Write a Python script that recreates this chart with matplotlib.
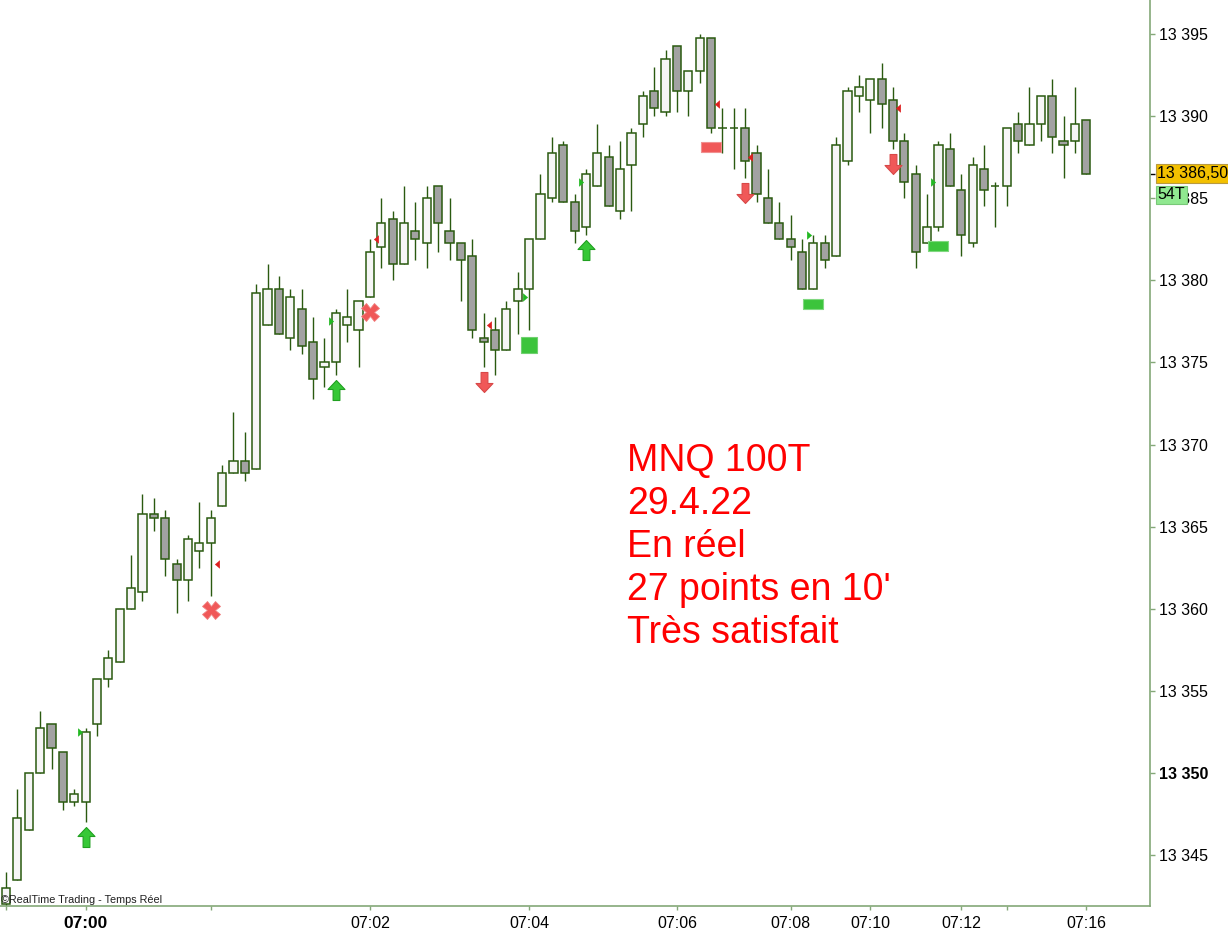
import numpy as np
import matplotlib
matplotlib.use("Agg")
import matplotlib.pyplot as plt
from matplotlib.path import Path
from matplotlib.ticker import FixedLocator, NullFormatter
import matplotlib.transforms as mtransforms

plt.rcParams['font.family'] = ['Liberation Sans', 'DejaVu Sans']

# MNQ 100 ticks candles (open, high, low, close)
opens = [13342.0, 13343.5, 13346.5, 13350.0, 13353.0, 13351.25, 13348.25, 13348.25, 13353.0, 13355.75,
         13356.75, 13360.0, 13361.0, 13365.75, 13365.5, 13362.75, 13361.75, 13363.5, 13364.0, 13366.25,
         13368.25, 13369.0, 13368.5, 13377.25, 13379.5, 13376.5, 13378.25, 13376.25, 13374.75, 13375.0,
         13377.25, 13377.0, 13379.0, 13382.0, 13383.75, 13381.0, 13383.0, 13382.25, 13385.75, 13383.0,
         13382.25, 13381.5, 13376.5, 13377.0, 13375.75, 13378.75, 13379.5, 13382.5, 13385.0, 13388.25,
         13384.75, 13383.25, 13385.75, 13387.5, 13384.25, 13387.0, 13389.5, 13391.5, 13390.25, 13394.25,
         13391.5, 13392.75, 13394.75, 13389.25, 13389.25, 13389.25, 13387.75, 13385.0, 13383.5, 13382.5,
         13381.75, 13379.5, 13382.25, 13381.5, 13387.25, 13391.25, 13391.0, 13392.25, 13391.0, 13388.5,
         13386.5, 13382.25, 13383.25, 13388.0, 13385.5, 13382.25, 13386.75, 13385.75, 13385.75, 13389.5,
         13388.25, 13389.5, 13391.25, 13388.5, 13388.5, 13389.75]
highs = [13344.0, 13349.0, 13350.0, 13353.75, 13353.0, 13351.25, 13349.0, 13352.75, 13355.75, 13357.5,
         13360.0, 13363.25, 13367.0, 13366.75, 13366.0, 13363.0, 13364.5, 13366.5, 13366.0, 13368.75,
         13372.0, 13370.75, 13379.75, 13381.0, 13380.25, 13379.5, 13379.5, 13377.75, 13376.5, 13378.25,
         13379.5, 13378.75, 13382.5, 13385.0, 13384.25, 13385.75, 13384.75, 13385.75, 13385.75, 13385.0,
         13382.25, 13382.5, 13378.0, 13377.75, 13378.75, 13380.5, 13382.5, 13386.5, 13388.75, 13388.5,
         13385.25, 13386.75, 13389.5, 13388.25, 13388.5, 13389.25, 13391.5, 13393.0, 13394.0, 13394.25,
         13392.75, 13395.0, 13394.75, 13390.5, 13390.5, 13390.5, 13388.25, 13386.75, 13384.75, 13384.0,
         13382.5, 13382.75, 13382.75, 13388.75, 13391.75, 13392.5, 13392.25, 13393.25, 13391.75, 13389.0,
         13387.0, 13385.25, 13388.5, 13389.0, 13386.5, 13387.5, 13388.25, 13386.0, 13389.25, 13390.25,
         13391.75, 13391.25, 13392.25, 13390.0, 13391.75, 13389.75]
lows = [13341.75, 13343.5, 13346.5, 13350.0, 13350.25, 13347.75, 13348.0, 13347.0, 13352.25, 13355.25,
        13356.75, 13360.0, 13360.5, 13364.75, 13362.0, 13359.75, 13360.5, 13362.5, 13360.75, 13366.25,
        13368.25, 13367.75, 13368.5, 13377.25, 13376.75, 13375.75, 13375.5, 13372.75, 13373.5, 13374.25,
        13376.25, 13374.75, 13379.0, 13380.75, 13380.0, 13381.0, 13381.25, 13380.75, 13381.75, 13381.25,
        13378.75, 13376.5, 13374.75, 13374.25, 13375.75, 13376.75, 13377.0, 13382.5, 13384.75, 13384.75,
        13382.25, 13382.75, 13385.75, 13384.5, 13383.75, 13384.25, 13388.75, 13390.0, 13390.0, 13390.25,
        13390.0, 13392.0, 13389.0, 13387.75, 13386.75, 13386.25, 13384.75, 13383.5, 13382.5, 13381.25,
        13379.5, 13379.5, 13380.75, 13381.5, 13387.0, 13390.25, 13389.0, 13389.25, 13388.0, 13385.0,
        13380.75, 13382.25, 13383.0, 13385.75, 13381.5, 13382.0, 13384.5, 13383.25, 13384.5, 13387.75,
        13388.25, 13388.5, 13387.75, 13386.25, 13387.75, 13386.5]
closes = [13343.0, 13347.25, 13350.0, 13352.75, 13351.5, 13348.25, 13348.75, 13352.5, 13355.75, 13357.0,
          13360.0, 13361.25, 13365.75, 13365.5, 13363.0, 13361.75, 13364.25, 13364.0, 13365.5, 13368.25,
          13369.0, 13368.25, 13379.25, 13379.5, 13376.75, 13379.0, 13376.0, 13374.0, 13375.0, 13378.0,
          13377.75, 13378.75, 13381.75, 13383.5, 13381.0, 13383.5, 13382.5, 13385.0, 13383.5, 13382.25,
          13381.25, 13377.0, 13376.25, 13375.75, 13378.25, 13379.5, 13382.5, 13385.25, 13387.75, 13384.75,
          13383.0, 13386.5, 13387.75, 13384.5, 13386.75, 13389.0, 13391.25, 13390.5, 13393.5, 13391.5,
          13392.75, 13394.75, 13389.25, 13389.25, 13389.25, 13387.25, 13385.25, 13383.5, 13382.5, 13382.0,
          13379.5, 13382.25, 13381.25, 13388.25, 13391.5, 13391.75, 13392.25, 13390.75, 13388.5, 13386.0,
          13381.75, 13383.25, 13388.25, 13385.75, 13382.75, 13387.0, 13385.5, 13385.75, 13389.25, 13388.5,
          13389.5, 13391.25, 13388.75, 13388.25, 13389.5, 13386.5]

# time labels (candle index -> label)
time_idx = [7, 32, 46, 59, 69, 76, 84, 95]
time_lbl = ['07:00', '07:02', '07:04', '07:06', '07:08', '07:10', '07:12', '07:16']
minor_idx = [0, 18, 88]
price_ticks = [13345, 13350, 13355, 13360, 13365, 13370, 13375, 13380, 13385, 13390, 13395]

# signals
buy_idx, buy_px = [7, 29, 51], [13346.1, 13373.3, 13381.85]
sell_idx, sell_px = [42, 65, 78], [13373.8, 13385.3, 13387.1]
stop_idx, stop_px = [18, 32], [13359.9, 13378.05]
tgt_idx, tgt_px = [46], [13376.05]
exitg_idx, exitg_px = [71, 82], [13378.55, 13382.1]
exitr_idx, exitr_px = [62], [13388.1]
gtri_idx = [6.52, 28.58, 45.65, 50.57, 70.65, 81.56]
gtri_px = [13352.5, 13377.5, 13379.0, 13386.0, 13382.75, 13386.0]
rtri_idx = [18.53, 32.52, 42.51, 62.51, 65.44, 78.48]
rtri_px = [13362.75, 13382.5, 13377.25, 13390.75, 13387.5, 13390.5]

last_px = 13386.5
tick_count = '54T'

# ------------------------------------------------------------------
fig = plt.figure(figsize=(12.28, 9.31), dpi=100)
ax = fig.add_axes([0, 25 / 931, 1150 / 1228, 906 / 931])

o = np.array(opens); h = np.array(highs); l = np.array(lows); c = np.array(closes)
x = np.arange(len(o))
up = c >= o
edge = '#2a5a10'

ax.vlines(x, l, h, color=edge, lw=1.0, zorder=2)
ax.bar(x, np.abs(c - o), bottom=np.minimum(o, c), width=0.72,
       color=np.where(up, '#f6f6f6', '#a2a2a2'), edgecolor=edge, linewidth=1.1, zorder=3)

# marker shapes
arrow_up = Path([(0, 0.5), (0.425, 0.05), (0.17, 0.05), (0.17, -0.5), (-0.17, -0.5),
                 (-0.17, 0.05), (-0.425, 0.05), (0, 0.5)], closed=True)
arrow_dn = Path([(vx, -vy) for vx, vy in arrow_up.vertices], closed=True)
rect = Path([(-0.5, -0.27), (0.5, -0.27), (0.5, 0.27), (-0.5, 0.27), (-0.5, -0.27)], closed=True)
tri_r = Path([(-0.3, 0.5), (0.3, 0), (-0.3, -0.5), (-0.3, 0.5)], closed=True)
tri_l = Path([(0.3, 0.5), (-0.3, 0), (0.3, -0.5), (0.3, 0.5)], closed=True)

ax.plot(buy_idx, buy_px, ls='none', marker=arrow_up, ms=14.4, mfc='#36c836', mec='#20a020', mew=0.8, zorder=5)
ax.plot(sell_idx, sell_px, ls='none', marker=arrow_dn, ms=14.4, mfc='#f05858', mec='#d84848', mew=0.8, zorder=5)
ax.plot(stop_idx, stop_px, ls='none', marker='X', ms=12.5, mfc='#f05858', mec='#f08080', mew=0.6, zorder=5)
ax.plot(tgt_idx, tgt_px, ls='none', marker='s', ms=11.5, mfc='#3cc43c', mec='#70d070', mew=0.8, zorder=5)
ax.plot(exitg_idx, exitg_px, ls='none', marker=rect, ms=14.4, mfc='#3cc43c', mec='#80d880', mew=0.8, zorder=5)
ax.plot(exitr_idx, exitr_px, ls='none', marker=rect, ms=14.4, mfc='#f05858', mec='#f09090', mew=0.8, zorder=5)
ax.plot(gtri_idx, gtri_px, ls='none', marker=tri_r, ms=5.5, mfc='#22b822', mec='#22b822', mew=0.3, zorder=5)
ax.plot(rtri_idx, rtri_px, ls='none', marker=tri_l, ms=5.5, mfc='#dd2020', mec='#dd2020', mew=0.3, zorder=5)

ax.set_xlim(-0.53, 100.6)
ax.set_ylim(13341.9, 13397.07)

# axes look
axis_col = '#84a878'
for s in ['top', 'left']:
    ax.spines[s].set_visible(False)
for s in ['bottom', 'right']:
    ax.spines[s].set_color(axis_col)
    ax.spines[s].set_linewidth(1.2)

ax.yaxis.tick_right()
ax.set_yticks(price_ticks)
ax.set_yticklabels(['{:,}'.format(p).replace(',', ' ') for p in price_ticks])
ax.yaxis.set_minor_locator(FixedLocator([last_px]))
ax.yaxis.set_minor_formatter(NullFormatter())
ax.tick_params(axis='y', which='major', direction='out', length=3.5, width=1,
               color=axis_col, labelsize=11.5, pad=3)
ax.tick_params(axis='y', which='minor', direction='out', length=3.5, width=1, color='black')
for lab, p in zip(ax.get_yticklabels(), price_ticks):
    if p == 13350:
        lab.set_fontweight('bold')

ax.set_xticks(time_idx)
ax.set_xticklabels(time_lbl)
ax.xaxis.set_minor_locator(FixedLocator(minor_idx))
ax.tick_params(axis='x', which='both', direction='out', length=3, width=1,
               color=axis_col, labelsize=11.5, pad=4)
ax.get_xticklabels()[0].set_fontweight('bold')
ax.get_xticklabels()[0].set_fontsize(12.5)

# last price and tick counter boxes
trans = mtransforms.blended_transform_factory(ax.transAxes, ax.transData)
ax.text(1.0065, last_px, '13 386,50', transform=trans, ha='left', va='center', fontsize=11.5,
        bbox=dict(boxstyle='square,pad=0.12', fc='#f3c000', ec='#b89a40', lw=0.8), clip_on=False, zorder=6)
ax.text(1.0065, 13385.2, tick_count, transform=trans, ha='left', va='center', fontsize=11.5,
        bbox=dict(boxstyle='square,pad=0.12', fc='#90e890', ec='#78c878', lw=0.8), clip_on=False, zorder=7)

ax.text(0.001, 0.003, '\u00a9RealTime Trading - Temps Réel', transform=ax.transAxes,
        ha='left', va='baseline', fontsize=7.8, color='#202020')

ax.text(0.5455, 0.5105, "MNQ 100T\n29.4.22\nEn réel\n27 points en 10'\nTrès satisfait",
        transform=ax.transAxes, ha='left', va='top', fontsize=27, color='#ff0000',
        linespacing=1.245)

fig.savefig('out.png', dpi=100)
